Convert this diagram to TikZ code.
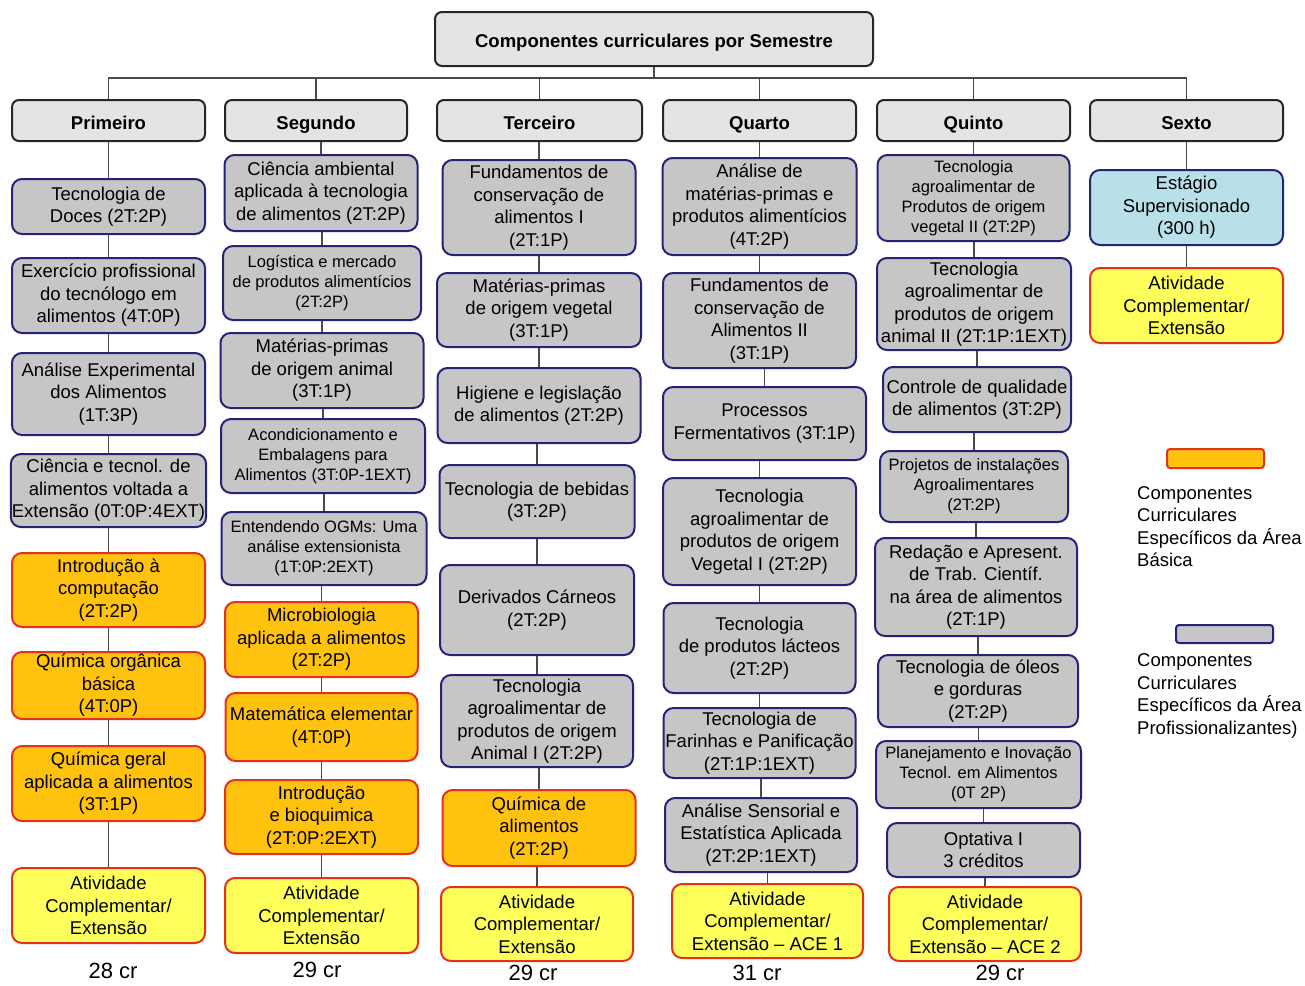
\documentclass[tikz,border=0pt]{standalone}
\usepackage{fontspec}
\setmainfont{Liberation Sans}
\usepackage{xcolor}
\usepackage{tikz}
\definecolor{hdrgray}{HTML}{E4E4E4}
\definecolor{boxgray}{HTML}{C6C6C6}
\definecolor{navy}{HTML}{23237A}
\definecolor{basicorange}{HTML}{FFC20E}
\definecolor{atvyellow}{HTML}{FFFF5C}
\definecolor{estcyan}{HTML}{B9DFE8}
\definecolor{redline}{HTML}{E2321E}
\definecolor{linkgray}{HTML}{4A4A4A}
\newcommand{\fs}{\fontsize{18.5}{22.5}\selectfont}
\newcommand{\fsm}{\fontsize{16.5}{20}\selectfont}
\newcommand{\fcr}{\fontsize{22}{26}\selectfont}

\begin{document}
\begin{tikzpicture}[x=1pt,y=-1pt,
  every node/.style={align=center,inner sep=1pt,font=\fs},
  box/.style={rounded corners=10pt,line width=2pt},
  hdr/.style={box,rounded corners=7pt,draw=black!85,fill=hdrgray,font=\fs\bfseries,text height=17pt,text depth=0pt,minimum width=193pt,minimum height=41pt},
  prof/.style={box,draw=navy,fill=boxgray},
  basic/.style={box,draw=redline,fill=basicorange},
  ativ/.style={box,draw=redline,fill=atvyellow},
  estag/.style={box,draw=navy,fill=estcyan},
  sz/.style 2 args={minimum width=#1pt,minimum height=#2pt},
  link/.style={draw=linkgray,line width=1.5pt}]
\useasboundingbox (0,0) rectangle (1305,985);
% title and semesters
\node[hdr,sz={438}{54}] (title) at (654,39) {Componentes curriculares por Semestre};
\node[hdr] (h1) at (108.5,120.5) {Primeiro};
\node[hdr,sz={182}{41}] (h2) at (316,120.5) {Segundo};
\node[hdr,sz={205}{41}] (h3) at (539.5,120.5) {Terceiro};
\node[hdr] (h4) at (759.5,120.5) {Quarto};
\node[hdr] (h5) at (973.5,120.5) {Quinto};
\node[hdr] (h6) at (1186.5,120.5) {Sexto};
\foreach \h in {h1,h2,h3,h4,h5,h6} \draw[link] (title.south) -- ++(0,11) -| (\h.north);
% primeiro
\node[prof,sz={193}{55}] (p1) at (108.5,206.5) {Tecnologia de\\Doces (2T:2P)};
\node[prof,sz={193}{75}] (p2) at (108.5,295.5) {Exercício profissional\\do tecnólogo em\\alimentos (4T:0P)};
\node[prof,sz={193}{82}] (p3) at (108.5,394) {Análise Experimental\\dos Alimentos\\(1T:3P)};
\node[prof,sz={193}{73}] (p4) at (108.5,490.5) {Ciência e tecnol. de\\alimentos voltada a\\Extensão (0T:0P:4EXT)};
\node[basic,sz={193}{74}] (p5) at (108.5,590) {Introdução à\\computação\\(2T:2P)};
\node[basic,sz={193}{67}] (p6) at (108.5,685.5) {Química orgânica\\básica\\(4T:0P)};
\node[basic,sz={193}{75}] (p7) at (108.5,783.5) {Química geral\\aplicada a alimentos\\(3T:1P)};
\node[ativ,sz={193}{75}] (p8) at (108.5,905.5) {Atividade\\Complementar/\\Extensão};
\node[font=\fcr] (cr1) at (113,971) {28 cr};
\foreach \a/\b in {h1/p1,p1/p2,p2/p3,p3/p4,p4/p5,p5/p6,p6/p7,p7/p8} \draw[link] (\a.south -| \b.north) -- (\b.north);
% segundo
\node[prof,sz={193}{76}] (s1) at (321,193) {Ciência ambiental\\aplicada à tecnologia\\de alimentos (2T:2P)};
\node[prof,sz={198}{74},font=\fsm] (s2) at (322,283) {Logística e mercado\\de produtos alimentícios\\(2T:2P)};
\node[prof,sz={203}{75}] (s3) at (322,370.5) {Matérias-primas\\de origem animal\\(3T:1P)};
\node[prof,sz={204}{74},font=\fsm] (s4) at (323,456) {Acondicionamento e\\Embalagens para\\Alimentos (3T:0P-1EXT)};
\node[prof,sz={205}{73},font=\fsm] (s5) at (324,548.5) {Entendendo OGMs: Uma\\análise extensionista\\(1T:0P:2EXT)};
\node[basic,sz={193}{75}] (s6) at (321.5,639.5) {Microbiologia\\aplicada a alimentos\\(2T:2P)};
\node[basic,sz={192}{68}] (s7) at (321.5,727) {Matemática elementar\\(4T:0P)};
\node[basic,sz={193}{74}] (s8) at (321.5,817) {Introdução\\e bioquimica\\(2T:0P:2EXT)};
\node[ativ,sz={193}{75}] (s9) at (321.5,915.5) {Atividade\\Complementar/\\Extensão};
\node[font=\fcr] (cr2) at (317,970) {29 cr};
\foreach \a/\b in {h2/s1,s1/s2,s2/s3,s3/s4,s4/s5,s5/s6,s6/s7,s7/s8,s8/s9} \draw[link] (\a.south -| \b.north) -- (\b.north);
% terceiro
\node[prof,sz={193}{95}] (t1) at (539,207.5) {Fundamentos de\\conservação de\\alimentos I\\(2T:1P)};
\node[prof,sz={204}{74}] (t2) at (539,310) {Matérias-primas\\de origem vegetal\\(3T:1P)};
\node[prof,sz={203}{75}] (t3) at (539,405.5) {Higiene e legislação\\de alimentos (2T:2P)};
\node[prof,sz={195}{73}] (t4) at (537,501.5) {Tecnologia de bebidas\\(3T:2P)};
\node[prof,sz={194}{90}] (t5) at (537,610) {Derivados Cárneos\\(2T:2P)};
\node[prof,sz={192}{92}] (t6) at (537,721) {Tecnologia\\agroalimentar de\\produtos de origem\\Animal I (2T:2P)};
\node[basic,sz={193}{76}] (t7) at (539,828) {Química de\\alimentos\\(2T:2P)};
\node[ativ,sz={192}{74}] (t8) at (537,924) {Atividade\\Complementar/\\Extensão};
\node[font=\fcr] (cr3) at (533,973) {29 cr};
\foreach \a/\b in {h3/t1,t1/t2,t2/t3,t3/t4,t4/t5,t5/t6,t6/t7,t7/t8} \draw[link] (\a.south -| \b.north) -- (\b.north);
% quarto
\node[prof,sz={194}{97}] (q1) at (759.5,206.5) {Análise de\\matérias-primas e\\produtos alimentícios\\(4T:2P)};
\node[prof,sz={193}{95}] (q2) at (759.5,320.5) {Fundamentos de\\conservação de\\Alimentos II\\(3T:1P)};
\node[prof,sz={203}{73}] (q3) at (764.5,423.5) {Processos\\Fermentativos (3T:1P)};
\node[prof,sz={193}{107}] (q4) at (759.5,531.5) {Tecnologia\\agroalimentar de\\produtos de origem\\Vegetal I (2T:2P)};
\node[prof,sz={192}{90}] (q5) at (759.5,648) {Tecnologia\\de produtos lácteos\\(2T:2P)};
\node[prof,sz={192}{70}] (q6) at (759.5,743) {Tecnologia de\\Farinhas e Panificação\\(2T:1P:1EXT)};
\node[prof,sz={192}{74}] (q7) at (761,835) {Análise Sensorial e\\Estatística Aplicada\\(2T:2P:1EXT)};
\node[ativ,sz={191}{74}] (q8) at (767.5,921) {Atividade\\Complementar/\\Extensão -- ACE 1};
\node[font=\fcr] (cr4) at (757,973) {31 cr};
\foreach \a/\b in {h4/q1,q1/q2,q2/q3,q3/q4,q4/q5,q5/q6,q6/q7,q7/q8} \draw[link] (\a.south -| \b.north) -- (\b.north);
% quinto
\node[prof,sz={192}{86},font=\fsm] (f1) at (973.5,198) {Tecnologia\\agroalimentar de\\Produtos de origem\\vegetal II (2T:2P)};
\node[prof,sz={194}{92}] (f2) at (974,304) {Tecnologia\\agroalimentar de\\produtos de origem\\animal II (2T:1P:1EXT)};
\node[prof,sz={188}{65}] (f3) at (977,399.5) {Controle de qualidade\\de alimentos (3T:2P)};
\node[prof,sz={188}{71},font=\fsm] (f4) at (974,486.5) {Projetos de instalações\\Agroalimentares\\(2T:2P)};
\node[prof,sz={202}{98}] (f5) at (976,587) {Redação e Apresent.\\de Trab. Científ.\\na área de alimentos\\(2T:1P)};
\node[prof,sz={200}{72}] (f6) at (978,691) {Tecnologia de óleos\\e gorduras\\(2T:2P)};
\node[prof,sz={205}{67},font=\fsm] (f7) at (978.5,774.5) {Planejamento e Inovação\\Tecnol. em Alimentos\\(0T 2P)};
\node[prof,sz={193}{54}] (f8) at (983.5,850) {Optativa I\\3 créditos};
\node[ativ,sz={192}{74}] (f9) at (985,924) {Atividade\\Complementar/\\Extensão -- ACE 2};
\node[font=\fcr] (cr5) at (1000,973) {29 cr};
\foreach \a/\b in {h5/f1,f1/f2,f2/f3,f3/f4,f4/f5,f5/f6,f6/f7,f7/f8,f8/f9} \draw[link] (\a.south -| \b.north) -- (\b.north);
% sexto
\node[estag,sz={193}{75}] (x1) at (1186.5,207.5) {Estágio\\Supervisionado\\(300 h)};
\node[ativ,sz={193}{75}] (x2) at (1186.5,305.5) {Atividade\\Complementar/\\Extensão};
\foreach \a/\b in {h6/x1,x1/x2} \draw[link] (\a.south -| \b.north) -- (\b.north);
% legenda
\node[basic,sz={97}{19},rounded corners=3pt] (lgbasic) at (1215.5,458.5) {};
\node[anchor=west,align=left,inner sep=0pt] (lgbasictxt) at (1137,526.5) {Componentes\\Curriculares\\Específicos da Área\\Básica};
\node[prof,sz={97}{18},rounded corners=3pt] (lgprof) at (1224.5,634) {};
\node[anchor=west,align=left,inner sep=0pt] (lgproftxt) at (1137,696) {Componentes\\Curriculares\\Específicos da Área\\Profissionalizantes)};
\end{tikzpicture}
\end{document}
